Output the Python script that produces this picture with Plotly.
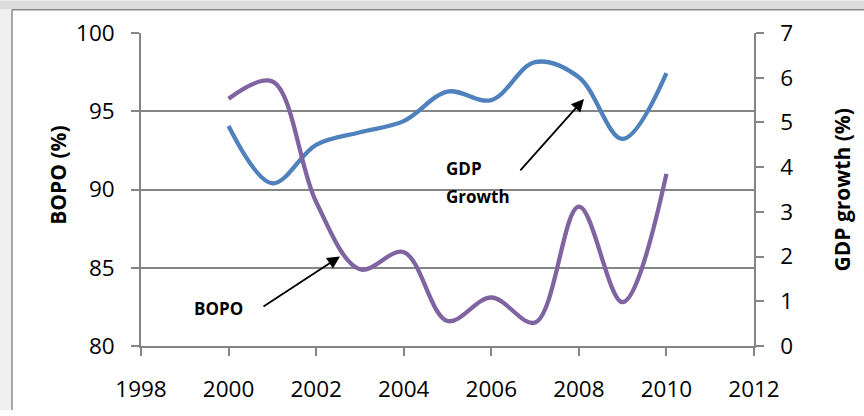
import plotly.graph_objects as go

years = [2000, 2001, 2002, 2003, 2004, 2005, 2006, 2007, 2008, 2009, 2010]
bopo = [95.8, 96.9, 89.2, 84.9, 86.0, 81.6, 83.1, 81.5, 88.9, 82.8, 91.0]
gdp_growth = [4.92, 3.64, 4.50, 4.78, 5.03, 5.69, 5.50, 6.35, 6.01, 4.63, 6.10]

x_ticks = [1998, 2000, 2002, 2004, 2006, 2008, 2010, 2012]
bopo_ticks = [80, 85, 90, 95, 100]
gdp_ticks = [0, 1, 2, 3, 4, 5, 6, 7]

W, H = 864, 416
L, R, T, B = 141, 754, 33, 351


def px(xp):
    return (xp - L) / (R - L)


def py(yp):
    return (B - yp) / (B - T)


GRID = "#858585"
TICKFONT = dict(family="Open Sans", size=22.5, color="#000000")

fig = go.Figure()
fig.add_trace(go.Scatter(
    x=years, y=gdp_growth, mode="lines", name="GDP Growth",
    line=dict(color="#4F81BD", width=4.3, shape="spline", smoothing=1.0),
    yaxis="y", showlegend=False, hoverinfo="skip"))
fig.add_trace(go.Scatter(
    x=years, y=bopo, mode="lines", name="BOPO",
    line=dict(color="#8064A2", width=4.3, shape="spline", smoothing=1.0),
    yaxis="y2", showlegend=False, hoverinfo="skip"))

fig.update_layout(
    width=W, height=H,
    margin=dict(l=L, r=W - R, t=T, b=H - B, pad=0),
    paper_bgcolor="white", plot_bgcolor="white",
    xaxis=dict(range=[1998, 2012], tickvals=x_ticks, ticktext=[str(v) for v in x_ticks],
               showgrid=False, zeroline=False, showline=True, linecolor=GRID, linewidth=1.6,
               ticks="outside", ticklen=8, tickcolor=GRID, tickwidth=1.6,
               tickfont=TICKFONT, ticklabelstandoff=14),
    yaxis=dict(range=[0, 7], tickvals=gdp_ticks, side="right",
               showgrid=False, zeroline=False, showline=True, linecolor=GRID, linewidth=1.6,
               ticks="outside", ticklen=8, tickcolor=GRID, tickwidth=1.6,
               tickfont=TICKFONT, ticklabelstandoff=12),
    yaxis2=dict(range=[80, 100], tickvals=bopo_ticks, side="left", overlaying="y",
                showgrid=True, gridcolor=GRID, gridwidth=1.6,
                zeroline=False, showline=True, linecolor=GRID, linewidth=1.6,
                ticks="outside", ticklen=8, tickcolor=GRID, tickwidth=1.6,
                tickfont=TICKFONT, ticklabelstandoff=12),
)

# background decoration: grey band at top and chart border
fig.add_shape(type="rect", xref="paper", yref="paper", x0=px(0), x1=px(W), y0=py(9), y1=py(0),
              fillcolor="#dcdcdc", line=dict(width=0), layer="below")
fig.add_shape(type="rect", xref="paper", yref="paper", x0=px(0), x1=px(11), y0=py(H), y1=py(9),
              fillcolor="#f0f0f0", line=dict(width=0), layer="below")
fig.add_shape(type="line", xref="paper", yref="paper", x0=px(12), x1=px(W), y0=py(9.5), y1=py(9.5),
              line=dict(color="#8a8a8a", width=1.5))
fig.add_shape(type="line", xref="paper", yref="paper", x0=px(12), x1=px(12), y0=py(9.5), y1=py(H),
              line=dict(color="#8a8a8a", width=1.5))

BOLD = "Open Sans"
# axis titles
fig.add_annotation(text="<b>BOPO (%)</b>", xref="paper", yref="paper", x=px(58), y=py(177),
                   textangle=-90, showarrow=False, font=dict(family=BOLD, size=21, color="black"),
                   xanchor="center", yanchor="middle")
fig.add_annotation(text="<b>GDP growth (%)</b>", xref="paper", yref="paper", x=px(842), y=py(193),
                   textangle=-90, showarrow=False, font=dict(family=BOLD, size=21, color="black"),
                   xanchor="center", yanchor="middle")

# labels inside plot
fig.add_annotation(text="<b>GDP</b>", xref="paper", yref="paper", x=px(444), y=py(171),
                   showarrow=False, font=dict(family=BOLD, size=17, color="black"),
                   xanchor="left", yanchor="middle")
fig.add_annotation(text="<b>Growth</b>", xref="paper", yref="paper", x=px(444), y=py(199),
                   showarrow=False, font=dict(family=BOLD, size=17, color="black"),
                   xanchor="left", yanchor="middle")
fig.add_annotation(text="<b>BOPO</b>", xref="paper", yref="paper", x=px(192), y=py(313),
                   showarrow=False, font=dict(family=BOLD, size=17, color="black"),
                   xanchor="left", yanchor="middle")

# arrows
fig.add_annotation(text="", xref="paper", yref="paper", x=px(584), y=py(100),
                   ax=519 - 584, ay=173 - 100, showarrow=True, arrowhead=2, arrowsize=1.4,
                   arrowwidth=1.8, arrowcolor="black", standoff=0)
fig.add_annotation(text="", xref="paper", yref="paper", x=px(340), y=py(260),
                   ax=262 - 340, ay=311 - 260, showarrow=True, arrowhead=2, arrowsize=1.4,
                   arrowwidth=1.8, arrowcolor="black", standoff=0)

fig.write_html("out.html")
